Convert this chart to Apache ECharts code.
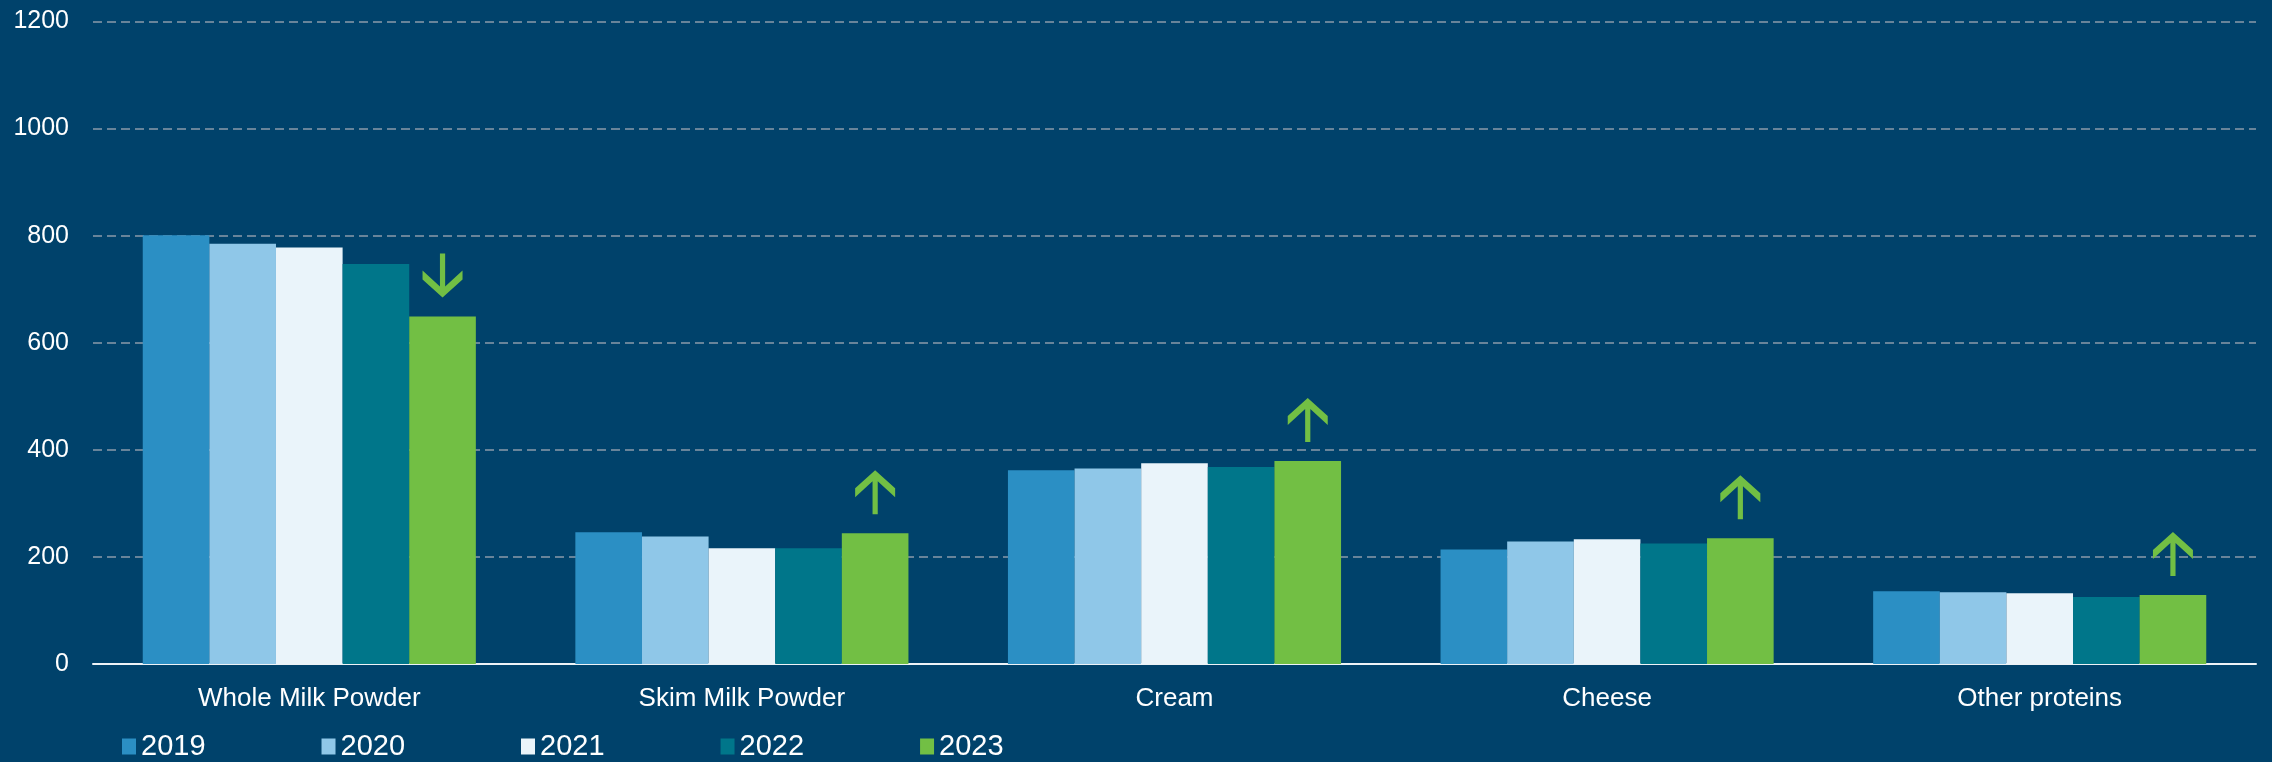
<!DOCTYPE html>
<html>
<head>
<meta charset="utf-8">
<script src="https://cdn.jsdelivr.net/npm/echarts@6/dist/echarts.min.js"></script>
<style>
html,body{margin:0;padding:0;background:#00426b;}
#chart{width:2272px;height:762px;}
</style>
</head>
<body>
<div id="chart"></div>
<script>
const categories = ['Whole Milk Powder', 'Skim Milk Powder', 'Cream', 'Cheese', 'Other proteins'];
const years = ['2019', '2020', '2021', '2022', '2023'];
const values2019 = [801, 246, 362, 214, 136];
const values2020 = [785, 238, 365, 229, 134];
const values2021 = [778, 216, 375, 233, 132];
const values2022 = [747, 216, 368, 225, 125];
const values2023 = [649, 244, 379, 235, 129];
const trend2023 = ['down', 'up', 'up', 'up', 'up'];
const yTicks = [0, 200, 400, 600, 800, 1000, 1200];

const colors = ['#2b8fc4', '#8fc7e8', '#eaf4fa', '#00768a', '#72bf44'];
const seriesValues = [values2019, values2020, values2021, values2022, values2023];

const UP = 'path://M20,0 L40,18 L40,27 L22.6,11 L22.6,44 L17.4,44 L17.4,11 L0,27 L0,18 Z';
const DOWN = 'path://M20,44 L40,26 L40,17 L22.6,33 L22.6,0 L17.4,0 L17.4,33 L0,17 L0,26 Z';

const font = '"Liberation Sans", Arial, sans-serif';

const series = years.map((y, k) => {
  const s = {
    name: y,
    type: 'bar',
    data: seriesValues[k],
    barGap: '0%',
    barCategoryGap: '23%',
    itemStyle: { color: colors[k] }
  };
  if (k === years.length - 1) {
    s.markPoint = {
      silent: true,
      animation: false,
      symbolSize: [40, 44],
      symbolOffset: [0, -41],
      label: { show: false },
      itemStyle: { color: '#72bf44' },
      data: categories.map((c, i) => ({
        coord: [c, values2023[i]],
        symbol: trend2023[i] === 'up' ? UP : DOWN
      }))
    };
  }
  return s;
});

const chart = echarts.init(document.getElementById('chart'), null, { renderer: 'canvas' });
chart.setOption({
  animation: false,
  backgroundColor: '#00426b',
  color: colors,
  textStyle: { fontFamily: font },
  grid: { left: 93, right: 16, top: 21.5, bottom: 98, containLabel: false },
  legend: {
    data: years,
    left: 122,
    top: 732,
    padding: 0,
    itemWidth: 14,
    itemHeight: 16,
    itemGap: 116,
    icon: 'rect',
    textStyle: { color: '#ffffff', fontSize: 29, fontFamily: font }
  },
  xAxis: {
    type: 'category',
    data: categories,
    axisLine: { show: true, lineStyle: { color: '#eef3f7', width: 2 } },
    axisTick: { show: false },
    axisLabel: { color: '#ffffff', fontSize: 26, margin: 22, fontFamily: font }
  },
  yAxis: {
    type: 'value',
    min: yTicks[0],
    max: yTicks[yTicks.length - 1],
    interval: yTicks[1] - yTicks[0],
    axisLine: { show: false },
    axisTick: { show: false },
    axisLabel: {
      color: '#ffffff', fontSize: 25, margin: 24, fontFamily: font,
      formatter: (v) => String(v)
    },
    splitLine: { lineStyle: { color: '#8b9aaa', width: 1.5, type: [9, 5] } }
  },
  series: series
});
</script>
</body>
</html>
